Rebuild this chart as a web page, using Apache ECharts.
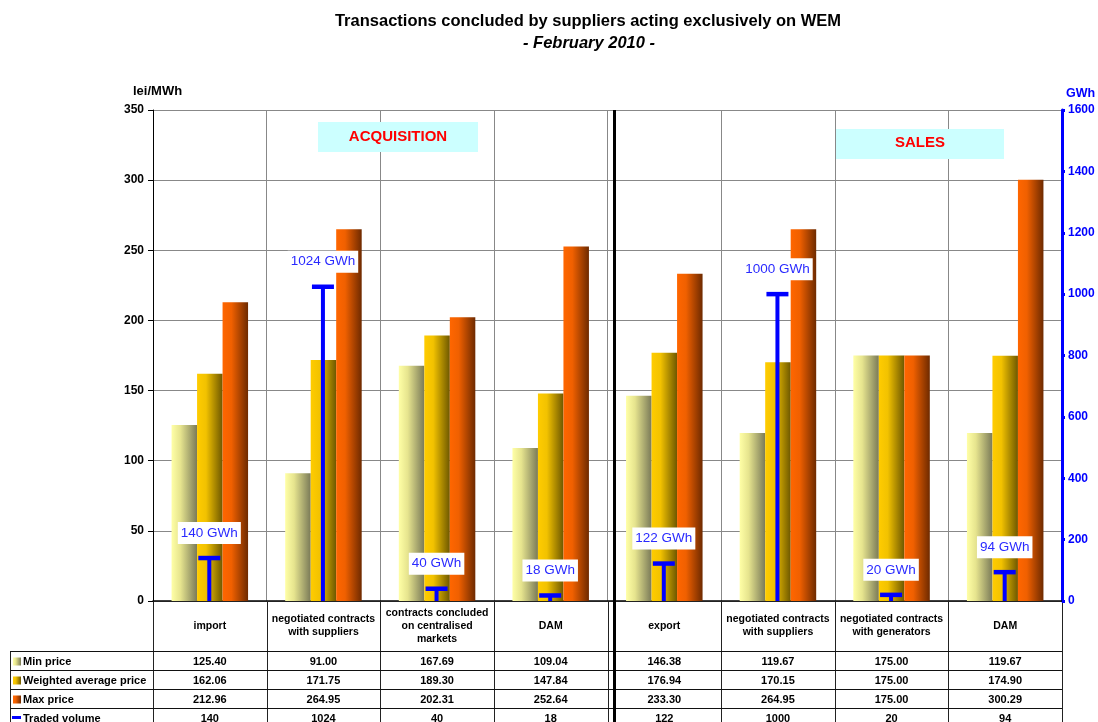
<!DOCTYPE html>
<html><head><meta charset="utf-8">
<script src="https://cdn.jsdelivr.net/npm/echarts@6/dist/echarts.min.js"></script>
<style>html,body{margin:0;padding:0;background:#fff}#c{width:1098px;height:722px}</style>
</head><body><div id="c"></div>
<script>
const categories = ['import','negotiated contracts\nwith suppliers','contracts concluded\non centralised\nmarkets','DAM','export','negotiated contracts\nwith suppliers','negotiated contracts\nwith generators','DAM'];
const minPrice = [125.40, 91.00, 167.69, 109.04, 146.38, 119.67, 175.00, 119.67];
const avgPrice = [162.06, 171.75, 189.30, 147.84, 176.94, 170.15, 175.00, 174.90];
const maxPrice = [212.96, 264.95, 202.31, 252.64, 233.30, 264.95, 175.00, 300.29];
const volume = [140, 1024, 40, 18, 122, 1000, 20, 94];
const rowNames = ['Min price', 'Weighted average price', 'Max price', 'Traded volume'];

const FONT = '"Liberation Sans", Arial, sans-serif';
const GL = 153, GR = 1062, GT = 110, GB = 601;
const W = (GR - GL) / categories.length;

function grad(c0, c1, c2) {
  return new echarts.graphic.LinearGradient(0, 0, 1, 0, [
    {offset: 0, color: c0}, {offset: 0.35, color: c1}, {offset: 1, color: c2}]);
}
const gMin = grad('#ffffa6', '#e6e48e', '#7a7a58');
const gAvg = grad('#ffcc00', '#f2c200', '#6e5800');
const gMax = grad('#ff6600', '#f06000', '#6e2a00');

const chart = echarts.init(document.getElementById('c'), null, {renderer: 'canvas'});

// table graphics
const g = [];
const fmt = v => v.toFixed(2);
const rowsY = [651, 670, 689, 708, 727];
const rowVals = [minPrice.map(fmt), avgPrice.map(fmt), maxPrice.map(fmt), volume.map(String)];
for (let i = 0; i <= categories.length; i++) {
  const x = Math.round(GL + i * W) + 0.5;
  g.push({type: 'line', shape: {x1: x, y1: GB, x2: x, y2: 722}, style: {stroke: '#222', lineWidth: 1}, silent: true});
}
g.push({type: 'line', shape: {x1: 10.5, y1: 651, x2: 10.5, y2: 722}, style: {stroke: '#222', lineWidth: 1}});
for (let r = 0; r < 4; r++) {
  g.push({type: 'line', shape: {x1: 10, y1: rowsY[r] + 0.5, x2: GR, y2: rowsY[r] + 0.5}, style: {stroke: '#111', lineWidth: 1}});
}
// separator
g.push({type: 'line', shape: {x1: 614.5, y1: GT, x2: 614.5, y2: 722}, style: {stroke: '#000', lineWidth: 3}, z: 100});
// headers
categories.forEach((c, i) => {
  g.push({type: 'text', x: GL + (i + 0.5) * W, y: 626, style: {text: c, font: 'bold 10.5px ' + FONT, fill: '#000', align: 'center', verticalAlign: 'middle', lineHeight: 13}});
});
// rows
const keyFill = [gMin, gAvg, gMax];
for (let r = 0; r < 4; r++) {
  const cy = (rowsY[r] + rowsY[r + 1]) / 2 + 1;
  if (r < 3) {
    g.push({type: 'rect', shape: {x: 13, y: cy - 4, width: 8, height: 8}, style: {fill: new echarts.graphic.LinearGradient(0, 0, 1, 0, keyFill[r].colorStops)}});
  } else {
    g.push({type: 'line', shape: {x1: 12, y1: cy - 1, x2: 21, y2: cy - 1}, style: {stroke: '#0000ff', lineWidth: 3}});
  }
  g.push({type: 'text', x: 23, y: cy, style: {text: rowNames[r], font: 'bold 11px ' + FONT, fill: '#000', align: 'left', verticalAlign: 'middle'}});
  rowVals[r].forEach((v, i) => {
    g.push({type: 'text', x: GL + (i + 0.5) * W, y: cy, style: {text: v, font: 'bold 11px ' + FONT, fill: '#000', align: 'center', verticalAlign: 'middle'}});
  });
}
// axis names
g.push({type: 'text', x: 133, y: 91, style: {text: 'lei/MWh', font: 'bold 13px ' + FONT, fill: '#000', verticalAlign: 'middle'}});
g.push({type: 'text', x: 1066, y: 94, style: {text: 'GWh', font: 'bold 12.5px ' + FONT, fill: '#0000ff', verticalAlign: 'middle'}});
// section boxes
g.push({type: 'rect', shape: {x: 318, y: 122, width: 160, height: 30}, style: {fill: '#ccffff'}, z: 50});
g.push({type: 'text', x: 398, y: 137, style: {text: 'ACQUISITION', font: 'bold 15px ' + FONT, fill: '#ff0000', align: 'center', verticalAlign: 'middle'}, z: 51});
g.push({type: 'rect', shape: {x: 836, y: 129, width: 168, height: 30}, style: {fill: '#ccffff'}, z: 50});
g.push({type: 'text', x: 920, y: 143, style: {text: 'SALES', font: 'bold 15px ' + FONT, fill: '#ff0000', align: 'center', verticalAlign: 'middle'}, z: 51});
// titles
g.push({type: 'text', x: 588, y: 21, style: {text: 'Transactions concluded by suppliers acting exclusively on WEM', font: 'bold 16.5px ' + FONT, fill: '#000', align: 'center', verticalAlign: 'middle'}});
g.push({type: 'text', x: 589, y: 43, style: {text: '- February 2010 -', font: 'italic bold 16.5px ' + FONT, fill: '#000', align: 'center', verticalAlign: 'middle'}});

const volData = volume.map((v, i) => [i, v]);

chart.setOption({
  animation: false,
  backgroundColor: '#fff',
  grid: {left: GL, right: 1098 - GR, top: GT, bottom: 722 - GB, containLabel: false},
  xAxis: {
    type: 'category', data: categories,
    axisLine: {lineStyle: {color: '#000', width: 1.5}},
    axisTick: {show: false, interval: 0},
    axisLabel: {show: false, interval: 0},
    splitLine: {show: true, interval: 0, lineStyle: {color: '#888', width: 1}}
  },
  yAxis: [
    {type: 'value', min: 0, max: 350, interval: 50,
      axisLine: {show: true, lineStyle: {color: '#000', width: 1}},
      axisTick: {show: true, length: 5, lineStyle: {color: '#000'}},
      axisLabel: {fontFamily: FONT, fontSize: 12, fontWeight: 'bold', color: '#000', margin: 9},
      splitLine: {show: true, lineStyle: {color: '#888', width: 1}}},
    {type: 'value', min: 0, max: 1600, interval: 200, position: 'right',
      axisLine: {show: true, lineStyle: {color: '#0000ff', width: 3}},
      axisTick: {show: true, length: 3, lineStyle: {color: '#0000ff', width: 3}},
      axisLabel: {fontFamily: FONT, fontSize: 12, fontWeight: 'bold', color: '#0000ff', margin: 6, formatter: v => String(v)},
      splitLine: {show: false}}
  ],
  series: [
    {name: 'Min price', type: 'bar', data: minPrice, barWidth: 25.5, barGap: '0%', itemStyle: {color: gMin}},
    {name: 'Weighted average price', type: 'bar', data: avgPrice, barWidth: 25.5, barGap: '0%', itemStyle: {color: gAvg}},
    {name: 'Max price', type: 'bar', data: maxPrice, barWidth: 25.5, barGap: '0%', itemStyle: {color: gMax}},
    {name: 'Traded volume', type: 'custom', yAxisIndex: 1, data: volData, z: 10,
      encode: {x: 0, y: 1},
      renderItem: function (params, api) {
        const p0 = api.coord([api.value(0), 0]);
        const p1 = api.coord([api.value(0), api.value(1)]);
        const x = p0[0] - 0.5;
        return {type: 'group', children: [
          {type: 'line', shape: {x1: x, y1: p0[1], x2: x, y2: p1[1]}, style: {stroke: '#0000ff', lineWidth: 4}},
          {type: 'line', shape: {x1: x - 11, y1: p1[1], x2: x + 11, y2: p1[1]}, style: {stroke: '#0000ff', lineWidth: 4.5}},
          {type: 'text', x: x, y: p1[1] - 25, style: {text: api.value(1) + ' GWh', font: '13.5px ' + FONT, fill: '#2a2aff', align: 'center', verticalAlign: 'middle', backgroundColor: '#fff', padding: [4, 3, 4, 3]}}
        ]};
      }
    }
  ],
  graphic: g
});
</script>
</body></html>
